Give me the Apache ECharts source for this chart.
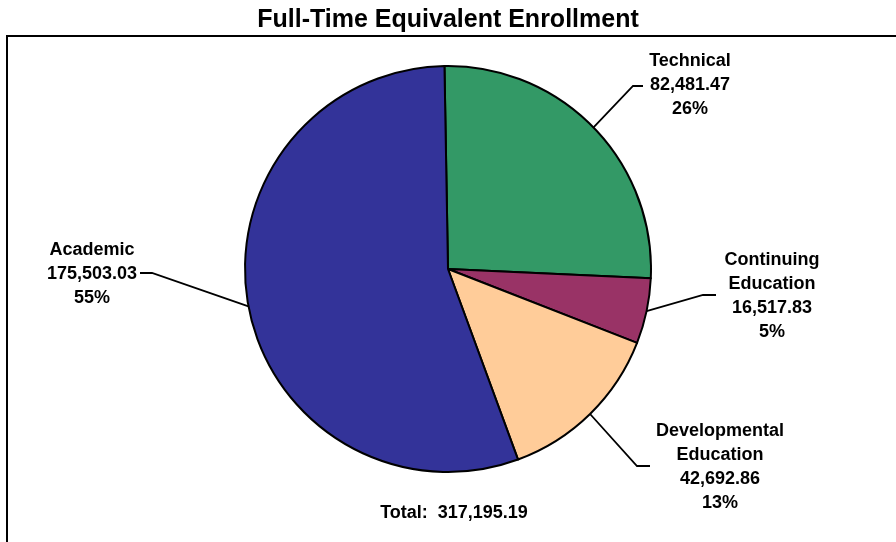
<!DOCTYPE html>
<html>
<head>
<meta charset="utf-8">
<title>Full-Time Equivalent Enrollment</title>
<script src="https://cdn.jsdelivr.net/npm/echarts@6/dist/echarts.min.js"></script>
<style>
  html, body { margin: 0; padding: 0; background: #ffffff; }
  #chart { width: 896px; height: 542px; }
</style>
</head>
<body>
<div id="chart"></div>
<script>
// Enrollment by program area (FTE)
const categories = ['Technical', 'Continuing\nEducation', 'Developmental\nEducation', 'Academic'];
const fteValues = [82481.47, 16517.83, 42692.86, 175503.03];
const sliceColors = ['#339966', '#993366', '#FFCC99', '#333399'];

// Where each callout's text block sits, and the bend of its leader line
const labelSpots = [
  { text: [690, 85],  elbow: [633, 86],  end: [643, 86] },
  { text: [772, 296], elbow: [703, 295], end: [716, 295] },
  { text: [720, 467], elbow: [637, 466], end: [650, 466] },
  { text: [92, 274],  elbow: [152, 273], end: [140, 273] }
];

const FONT = '"Liberation Sans", Arial, Helvetica, sans-serif';

function formatNumber(v) {
  const fixed = v.toFixed(2);
  const parts = fixed.split('.');
  parts[0] = parts[0].replace(/\B(?=(\d{3})+(?!\d))/g, ',');
  return parts.join('.');
}

const total = fteValues.reduce((a, b) => a + b, 0);

const chart = echarts.init(document.getElementById('chart'), null, { renderer: 'canvas' });

chart.setOption({
  animation: false,
  backgroundColor: '#ffffff',
  title: [
    {
      text: 'Full-Time Equivalent Enrollment',
      left: 'center',
      top: 3,
      textStyle: { fontFamily: FONT, fontSize: 25, fontWeight: 'bold', color: '#000000' }
    },
    {
      text: 'Total:  ' + formatNumber(total),
      left: 449,
      textAlign: 'center',
      top: 499,
      textStyle: { fontFamily: FONT, fontSize: 18, fontWeight: 'bold', color: '#000000' }
    }
  ],
  graphic: [
    {
      type: 'rect',
      shape: { x: 7, y: 36, width: 900, height: 520 },
      style: { fill: 'none', stroke: '#000000', lineWidth: 2 },
      silent: true,
      z: -1
    }
  ],
  series: [
    {
      type: 'pie',
      center: [448, 269],
      radius: 203,
      startAngle: 91,
      clockwise: true,
      avoidLabelOverlap: false,
      data: categories.map((name, i) => ({
        name: name,
        value: fteValues[i],
        itemStyle: { color: sliceColors[i] }
      })),
      itemStyle: { borderColor: '#000000', borderWidth: 2 },
      emphasis: { disabled: true },
      label: {
        show: true,
        position: 'outside',
        fontFamily: FONT,
        fontSize: 18,
        fontWeight: 'bold',
        color: '#000000',
        lineHeight: 24,
        align: 'center',
        formatter: function (p) {
          return p.name + '\n' + formatNumber(p.value) + '\n' + Math.round(p.percent) + '%';
        }
      },
      labelLine: {
        show: true,
        length: 40,
        length2: 10,
        smooth: false,
        lineStyle: { color: '#000000', width: 1.8 }
      },
      labelLayout: function (params) {
        const spot = labelSpots[params.dataIndex];
        const pts = params.labelLinePoints;
        return {
          x: spot.text[0],
          y: spot.text[1],
          align: 'center',
          verticalAlign: 'middle',
          labelLinePoints: [pts[0], spot.elbow, spot.end]
        };
      }
    }
  ]
});
</script>
</body>
</html>
